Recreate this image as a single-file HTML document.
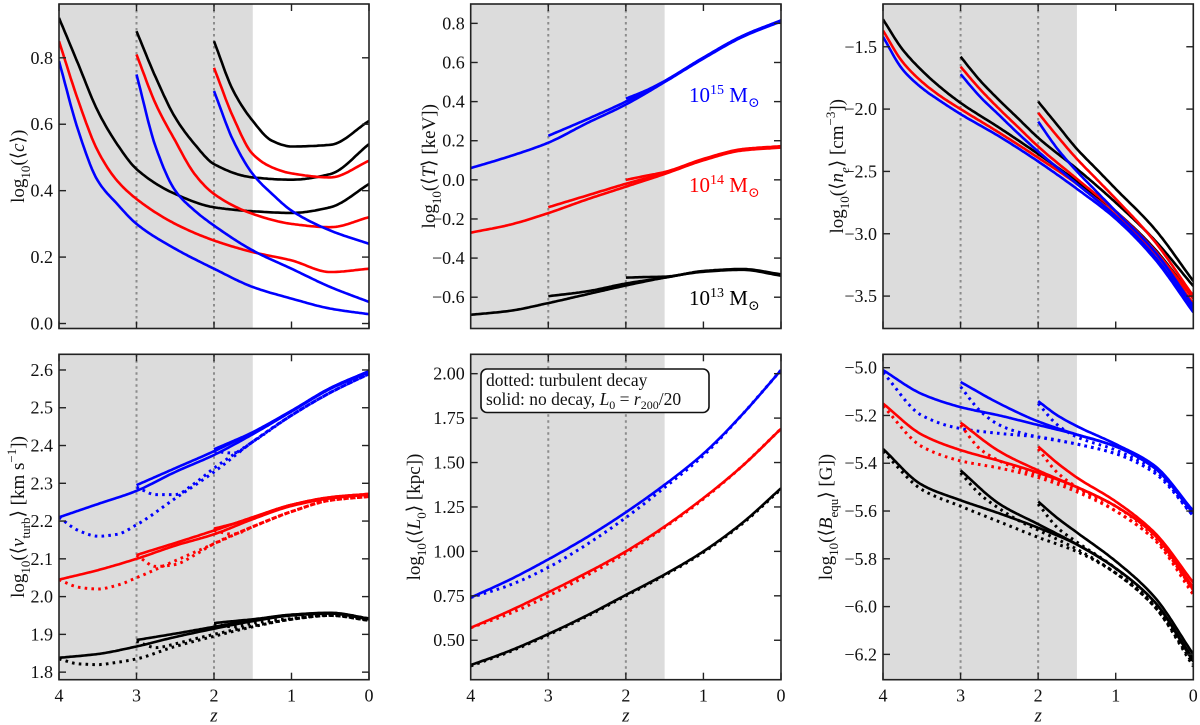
<!DOCTYPE html>
<html><head><meta charset="utf-8"><style>
html,body{margin:0;padding:0;background:#fff;}
svg{display:block;}
svg text{font-family:"Liberation Serif","DejaVu Serif",serif;}
</style></head><body>
<svg id="fig" width="1200" height="725" viewBox="0 0 1200 725" xmlns="http://www.w3.org/2000/svg"></svg>
<script>
// ---- shared z grids ----
const Z4=[4,3.5,3,2.5,2,1.5,1,0.5,0];
const Z4f=[4,3.75,3.5,3.25,3,2.5,2,1.5,1,0.5,0];
const Z3=[3,2.5,2,1.5,1,0.5,0];
const Z3f=[3,2.75,2.5,2.25,2,1.5,1,0.5,0];
const Z2=[2,1.75,1.5,1,0.5,0];
const Z2f=[2,1.75,1.5,1.25,1,0.5,0];
// ---- panel: concentration ----
const c_blue4=[0.79,0.58,0.43,0.36,0.30,0.225,0.165,0.11,0.075,0.045,0.028];
const c_red4=[0.85,0.67,0.52,0.43,0.375,0.30,0.25,0.215,0.19,0.155,0.165];
const c_black4=[0.92,0.78,0.64,0.54,0.465,0.39,0.35,0.338,0.333,0.35,0.42];
const c_blue3=[0.75,0.53,0.40,0.34,0.295,0.22,0.165,0.11,0.065];
const c_red3=[0.81,0.66,0.55,0.45,0.39,0.33,0.30,0.29,0.32];
const c_black3=[0.88,0.74,0.62,0.54,0.48,0.44,0.433,0.45,0.54];
const c_blue2=[0.70,0.55,0.45,0.39,0.34,0.28,0.24];
const c_red2=[0.77,0.62,0.51,0.47,0.452,0.44,0.49];
const c_black2=[0.85,0.70,0.61,0.55,0.533,0.538,0.61];
// ---- panel: temperature ----
const T_blue4=[0.06,0.12,0.19,0.29,0.385,0.50,0.62,0.73,0.81];
const T_red4=[-0.27,-0.23,-0.17,-0.10,-0.035,0.03,0.10,0.15,0.165];
const T_black4=[-0.69,-0.67,-0.63,-0.585,-0.54,-0.50,-0.47,-0.46,-0.49];
const T_blue3=[0.225,0.31,0.40,0.505,0.625,0.735,0.815];
const T_red3=[-0.14,-0.08,-0.02,0.035,0.105,0.155,0.17];
const T_black3=[-0.595,-0.57,-0.53,-0.50,-0.468,-0.458,-0.485];
const T_blue2=[0.415,0.455,0.505,0.625,0.735,0.815];
const T_red2=[0.0,0.02,0.04,0.107,0.157,0.172];
const T_black2=[-0.50,-0.497,-0.495,-0.466,-0.456,-0.483];
// ---- panel: electron density ----
const n_blue4=[-1.42,-1.68,-1.83,-1.94,-2.04,-2.22,-2.42,-2.64,-2.88,-3.2,-3.63];
const n_red4=[-1.37,-1.62,-1.78,-1.9,-2.0,-2.19,-2.39,-2.6,-2.85,-3.15,-3.56];
const n_black4=[-1.28,-1.52,-1.69,-1.83,-1.95,-2.15,-2.36,-2.58,-2.82,-3.12,-3.52];
const n_blue3=[-1.72,-1.9,-2.05,-2.2,-2.34,-2.6,-2.86,-3.18,-3.6];
const n_red3=[-1.66,-1.84,-2.0,-2.15,-2.3,-2.56,-2.82,-3.13,-3.52];
const n_black3=[-1.58,-1.77,-1.93,-2.08,-2.23,-2.48,-2.75,-3.05,-3.42];
const n_blue2=[-2.1,-2.32,-2.5,-2.66,-2.82,-3.14,-3.58];
const n_red2=[-2.03,-2.22,-2.4,-2.56,-2.72,-3.06,-3.5];
const n_black2=[-1.94,-2.13,-2.32,-2.48,-2.64,-2.96,-3.38];
// ---- panel: turbulent velocity (solid / dotted) ----
const v_blue4=[2.21,2.245,2.28,2.33,2.375,2.43,2.49,2.55,2.595];
const v_blue4d=[2.21,2.175,2.16,2.165,2.19,2.26,2.33,2.41,2.48,2.54,2.59];
const v_red4=[2.045,2.07,2.10,2.135,2.165,2.205,2.24,2.26,2.27];
const v_red4d=[2.045,2.025,2.02,2.03,2.05,2.095,2.14,2.185,2.225,2.255,2.265];
const v_black4=[1.838,1.848,1.868,1.893,1.915,1.935,1.95,1.955,1.94];
const v_black4d=[1.835,1.822,1.82,1.826,1.835,1.868,1.895,1.92,1.94,1.95,1.937];
const v_blue3=[2.295,2.34,2.385,2.435,2.492,2.552,2.597];
const v_blue3d=[2.29,2.27,2.27,2.30,2.34,2.41,2.48,2.54,2.59];
const v_red3=[2.11,2.142,2.175,2.21,2.243,2.263,2.272];
const v_red3d=[2.11,2.08,2.085,2.11,2.14,2.185,2.225,2.255,2.265];
const v_black3=[1.885,1.902,1.92,1.938,1.952,1.957,1.942];
const v_black3d=[1.882,1.865,1.875,1.888,1.9,1.922,1.94,1.95,1.937];
const v_blue2=[2.39,2.412,2.435,2.492,2.552,2.597];
const v_blue2d=[2.385,2.38,2.41,2.48,2.54,2.59];
const v_red2=[2.18,2.193,2.21,2.243,2.263,2.272];
const v_red2d=[2.175,2.165,2.185,2.225,2.255,2.265];
const v_black2=[1.93,1.935,1.94,1.952,1.957,1.942];
const v_black2d=[1.928,1.92,1.93,1.942,1.951,1.938];
// ---- panel: driving scale ----
const L_blue=[0.74,0.84,0.955,1.08,1.22,1.375,1.55,1.77,2.02];
const L_blued=[0.74,0.81,0.91,1.04,1.19,1.36,1.54,1.77,2.02];
const L_red=[0.57,0.665,0.77,0.88,1.0,1.14,1.3,1.48,1.69];
const L_redd=[0.57,0.65,0.75,0.865,0.99,1.135,1.295,1.48,1.69];
const L_black=[0.36,0.44,0.535,0.64,0.755,0.87,1.0,1.16,1.355];
const L_blackd=[0.355,0.435,0.53,0.635,0.75,0.865,0.995,1.155,1.35];
// ---- panel: magnetic field ----
const B_blue4=[-5.01,-5.11,-5.165,-5.2,-5.24,-5.28,-5.33,-5.42,-5.61];
const B_blue4d=[-5.02,-5.2,-5.255,-5.275,-5.29,-5.32,-5.36,-5.44,-5.62];
const B_red4=[-5.15,-5.28,-5.345,-5.39,-5.44,-5.5,-5.58,-5.7,-5.93];
const B_red4d=[-5.16,-5.33,-5.39,-5.42,-5.46,-5.52,-5.6,-5.72,-5.95];
const B_black4=[-5.34,-5.49,-5.555,-5.61,-5.67,-5.74,-5.84,-5.98,-6.23];
const B_black4d=[-5.35,-5.51,-5.58,-5.645,-5.71,-5.77,-5.86,-6.0,-6.25];
const B_blue3=[-5.06,-5.15,-5.225,-5.28,-5.33,-5.42,-5.6];
const B_blue3d=[-5.08,-5.18,-5.24,-5.27,-5.29,-5.32,-5.36,-5.44,-5.62];
const B_red3=[-5.23,-5.35,-5.43,-5.5,-5.58,-5.7,-5.92];
const B_red3d=[-5.24,-5.34,-5.39,-5.425,-5.45,-5.51,-5.6,-5.72,-5.94];
const B_black3=[-5.43,-5.57,-5.655,-5.74,-5.84,-5.98,-6.22];
const B_black3d=[-5.44,-5.53,-5.59,-5.64,-5.68,-5.76,-5.86,-6.0,-6.24];
const B_blue2=[-5.14,-5.2,-5.245,-5.32,-5.41,-5.6];
const B_blue2d=[-5.15,-5.24,-5.29,-5.345,-5.43,-5.62];
const B_red2=[-5.33,-5.4,-5.46,-5.56,-5.69,-5.9];
const B_red2d=[-5.34,-5.44,-5.5,-5.58,-5.71,-5.93];
const B_black2=[-5.56,-5.63,-5.69,-5.81,-5.96,-6.2];
const B_black2d=[-5.57,-5.67,-5.73,-5.84,-5.99,-6.22];
// ---- tick labels ----
const xTicks=[4,3,2,1,0];
const cTicks=[0.0,0.2,0.4,0.6,0.8];
const TTicks=[-0.6,-0.4,-0.2,0.0,0.2,0.4,0.6,0.8];
const nTicks=[-3.5,-3.0,-2.5,-2.0,-1.5];
const vTicks=[1.8,1.9,2.0,2.1,2.2,2.3,2.4,2.5,2.6];
const LTicks=[0.5,0.75,1.0,1.25,1.5,1.75,2.0];
const BTicks=[-6.2,-6.0,-5.8,-5.6,-5.4,-5.2,-5.0];

const NS="http://www.w3.org/2000/svg";
const svg=document.getElementById('fig');
function mk(tag,attrs,parent){const e=document.createElementNS(NS,tag);for(const k in attrs)e.setAttribute(k,attrs[k]);(parent||svg).appendChild(e);return e;}
const COL={blue:'#0000ff',red:'#ff0000',black:'#000000'};

function monotone(xs,ys){
  const n=xs.length,d=[],m=new Array(n);
  for(let i=0;i<n-1;i++)d.push((ys[i+1]-ys[i])/(xs[i+1]-xs[i]));
  m[0]=d[0];m[n-1]=d[n-2];
  for(let i=1;i<n-1;i++){
    if(d[i-1]*d[i]<=0)m[i]=0;
    else{const h0=xs[i]-xs[i-1],h1=xs[i+1]-xs[i];const w1=2*h1+h0,w2=h1+2*h0;m[i]=(w1+w2)/(w1/d[i-1]+w2/d[i]);}
  }
  return x=>{
    let i=0;while(i<n-2&&x>xs[i+1])i++;
    const h=xs[i+1]-xs[i],t=(x-xs[i])/h;
    const h00=2*t*t*t-3*t*t+1,h10=t*t*t-2*t*t+t,h01=-2*t*t*t+3*t*t,h11=t*t*t-t*t;
    return h00*ys[i]+h10*h*m[i]+h01*ys[i+1]+h11*h*m[i+1];
  };
}

function panel(cfg){
  const g=mk('g',{});
  
  
  const X=z=>cfg.x0+(4-z)/4*(cfg.x1-cfg.x0);
  const Y=v=>cfg.y1-(v-cfg.ymin)/(cfg.ymax-cfg.ymin)*(cfg.y1-cfg.y0);
  const clipId='clip-'+cfg.name;
  const cp=mk('clipPath',{id:clipId},g);
  mk('rect',{x:cfg.x0,y:cfg.y0,width:cfg.x1-cfg.x0,height:cfg.y1-cfg.y0},cp);
  const shade=mk('rect',{x:X(4),y:cfg.y0,width:X(1.5)-X(4),height:cfg.y1-cfg.y0,fill:'#dcdcdc'},g);
  
  
  [3,2].forEach(z=>{
    const l=mk('line',{x1:X(z),x2:X(z),y1:cfg.y0,y2:cfg.y1,stroke:'#8c8c8c','stroke-width':2,'stroke-dasharray':'2.5 3.5'},g);
    
    
  });
  const sg=mk('g',{'clip-path':'url(#'+clipId+')'},g);
  cfg.series.forEach(s=>{
    const zs=s.z.slice().reverse(),vs=s.v.slice().reverse();
    const f=monotone(zs,vs);
    const zStart=s.z[0];
    const N=Math.max(20,Math.round(zStart*40));
    let d='';
    for(let k=0;k<=N;k++){
      const z=zStart-zStart*k/N;
      d+=(k?'L':'M')+X(z).toFixed(1)+','+Y(f(z)).toFixed(1);
    }
    const p=mk('path',{d:d,fill:'none',stroke:COL[s.c],'stroke-width':2.6,'stroke-linejoin':'round'},sg);
    if(s.dot){p.setAttribute('stroke-dasharray','2.6 4.2');p.setAttribute('stroke-width',3);}
    
    
  });
  mk('rect',{x:cfg.x0,y:cfg.y0,width:cfg.x1-cfg.x0,height:cfg.y1-cfg.y0,fill:'none',stroke:'#222','stroke-width':1.6},g);
  xTicks.forEach(z=>{
    const x=X(z);
    mk('line',{x1:x,x2:x,y1:cfg.y1,y2:cfg.y1-7,stroke:'#222','stroke-width':1.4},g);
    mk('line',{x1:x,x2:x,y1:cfg.y0,y2:cfg.y0+7,stroke:'#222','stroke-width':1.4},g);
    if(cfg.xlabels){
      const t=mk('text',{x:x,y:cfg.y1+22,'font-size':18,'text-anchor':'middle',fill:'#111'},g);
      t.textContent=String(z);
      
      
    }
  });
  if(cfg.xlabels){
    const t=mk('text',{x:(cfg.x0+cfg.x1)/2,y:cfg.y1+42,'font-size':19,'font-style':'italic','text-anchor':'middle',fill:'#111'},g);
    t.textContent='z';
    
    
  }
  cfg.ticks.forEach(v=>{
    const y=Y(v);
    mk('line',{x1:cfg.x0,x2:cfg.x0+7,y1:y,y2:y,stroke:'#222','stroke-width':1.4},g);
    mk('line',{x1:cfg.x1,x2:cfg.x1-7,y1:y,y2:y,stroke:'#222','stroke-width':1.4},g);
    const t=mk('text',{x:cfg.x0-6,y:y+6,'font-size':18,'text-anchor':'end',fill:'#111'},g);
    t.textContent=v.toFixed(cfg.dec).replace('-','\u2212');
    
    
  });
  const yl=mk('text',{x:0,y:0,'font-size':19,'text-anchor':'middle',fill:'#111',transform:'translate('+cfg.lx+','+((cfg.y0+cfg.y1)/2)+') rotate(-90)'},g);
  let html='',cur=0;
  cfg.label.forEach(([txt,k])=>{
    const target=(k==='b'||k==='bi')?6:(k==='p'?-8:0);
    const dy=target-cur;cur=target;
    let a=' dy="'+dy+'"';
    if(k==='b'||k==='p'||k==='bi')a+=' font-size="13"';
    if(k==='i'||k==='bi')a+=' font-style="italic"';
    html+='<tspan'+a+'>'+txt+'</tspan>';
  });
  yl.innerHTML=html;
  
  
  return {g,X,Y};
}
function S(c,z,v,dot){return {c,z,v,dot:!!dot};}
const TOP={y0:4,y1:328.5}, BOT={y0:354.3,y1:679.7};
const C1={x0:59,x1:369},C2={x0:470.7,x1:781},C3={x0:883,x1:1193.3};

panel(Object.assign({name:'concentration-panel',ymin:-0.015,ymax:0.962,ticks:cTicks,dec:1,lx:24,
  label:[['log','n'],['10','b'],['(⟨','n'],['c','i'],['⟩)','n']],
  series:[S('black',Z4f,c_black4),S('red',Z4f,c_red4),S('blue',Z4f,c_blue4),
          S('black',Z3f,c_black3),S('red',Z3f,c_red3),S('blue',Z3f,c_blue3),
          S('black',Z2f,c_black2),S('red',Z2f,c_red2),S('blue',Z2f,c_blue2)]},TOP,C1));

const pT=panel(Object.assign({name:'temperature-panel',ymin:-0.760,ymax:0.899,ticks:TTicks,dec:1,lx:435,
  label:[['log','n'],['10','b'],['(⟨','n'],['T','i'],['⟩ [keV])','n']],
  series:[S('blue',Z4,T_blue4),S('blue',Z3,T_blue3),S('blue',Z2,T_blue2),
          S('red',Z4,T_red4),S('red',Z3,T_red3),S('red',Z2,T_red2),
          S('black',Z4,T_black4),S('black',Z3,T_black3),S('black',Z2,T_black2)]},TOP,C2));
[['10','15','#0000ff',102,'mass-label-1e15'],['10','14','#ff0000',192,'mass-label-1e14'],['10','13','#000000',305,'mass-label-1e13']].forEach(a=>{
  const t=mk('text',{x:689,y:a[3],'font-size':21,fill:a[2]},pT.g);
  t.innerHTML='<tspan>'+a[0]+'</tspan><tspan font-size="14" dy="-8">'+a[1]+'</tspan><tspan dy="8"> M</tspan><tspan font-size="14" dy="5">⊙</tspan>';
  
  
});

panel(Object.assign({name:'density-panel',ymin:-3.76,ymax:-1.157,ticks:nTicks,dec:1,lx:843,
  label:[['log','n'],['10','b'],['(⟨','n'],['n','i'],['e','bi'],['⟩ [cm','n'],['−3','p'],['])','n']],
  series:[S('blue',Z4f,n_blue4),S('red',Z4f,n_red4),S('black',Z4f,n_black4),
          S('blue',Z3f,n_blue3),S('red',Z3f,n_red3),S('black',Z3f,n_black3),
          S('blue',Z2f,n_blue2),S('red',Z2f,n_red2),S('black',Z2f,n_black2)]},TOP,C3));

panel(Object.assign({name:'vturb-panel',ymin:1.780,ymax:2.6415,ticks:vTicks,dec:1,lx:24,xlabels:true,
  label:[['log','n'],['10','b'],['(⟨','n'],['v','i'],['turb','b'],['⟩ [km s','n'],['−1','p'],['])','n']],
  series:[S('blue',Z4,v_blue4),S('blue',Z4f,v_blue4d,1),S('blue',Z3,v_blue3),S('blue',Z3f,v_blue3d,1),S('blue',Z2,v_blue2),S('blue',Z2,v_blue2d,1),
          S('red',Z4,v_red4),S('red',Z4f,v_red4d,1),S('red',Z3,v_red3),S('red',Z3f,v_red3d,1),S('red',Z2,v_red2),S('red',Z2,v_red2d,1),
          S('black',Z4,v_black4),S('black',Z4f,v_black4d,1),S('black',Z3,v_black3),S('black',Z3f,v_black3d,1),S('black',Z2,v_black2),S('black',Z2,v_black2d,1)]},BOT,C1));

const pL=panel(Object.assign({name:'driving-scale-panel',ymin:0.278,ymax:2.109,ticks:LTicks,dec:2,lx:420,xlabels:true,
  label:[['log','n'],['10','b'],['(⟨','n'],['L','i'],['0','b'],['⟩ [kpc])','n']],
  series:[S('blue',Z4,L_blue),S('blue',Z4,L_blued,1),S('red',Z4,L_red),S('red',Z4,L_redd,1),S('black',Z4,L_black),S('black',Z4,L_blackd,1)]},BOT,C2));
const lg=mk('g',{},pL.g);


mk('rect',{x:481,y:369,width:228,height:43.5,rx:6,fill:'#fff',stroke:'#111','stroke-width':1.6},lg);
const l1=mk('text',{x:486,y:386,'font-size':17.5,fill:'#111'},lg);
l1.textContent='dotted: turbulent decay';


const l2=mk('text',{x:486,y:405,'font-size':17.5,fill:'#111'},lg);
l2.innerHTML='<tspan>solid: no decay, </tspan><tspan font-style="italic">L</tspan><tspan font-size="12" dy="4">0</tspan><tspan dy="-4"> = </tspan><tspan font-style="italic">r</tspan><tspan font-size="12" dy="4">200</tspan><tspan dy="-4">/20</tspan>';



panel(Object.assign({name:'bfield-panel',ymin:-6.306,ymax:-4.944,ticks:BTicks,dec:1,lx:832,xlabels:true,
  label:[['log','n'],['10','b'],['(⟨','n'],['B','i'],['equ','b'],['⟩ [G])','n']],
  series:[S('blue',Z4,B_blue4),S('blue',Z4,B_blue4d,1),S('blue',Z3,B_blue3),S('blue',Z3f,B_blue3d,1),S('blue',Z2,B_blue2),S('blue',Z2,B_blue2d,1),
          S('red',Z4,B_red4),S('red',Z4,B_red4d,1),S('red',Z3,B_red3),S('red',Z3f,B_red3d,1),S('red',Z2,B_red2),S('red',Z2,B_red2d,1),
          S('black',Z4,B_black4),S('black',Z4,B_black4d,1),S('black',Z3,B_black3),S('black',Z3f,B_black3d,1),S('black',Z2,B_black2),S('black',Z2,B_black2d,1)]},BOT,C3));
</script>
</body></html>
